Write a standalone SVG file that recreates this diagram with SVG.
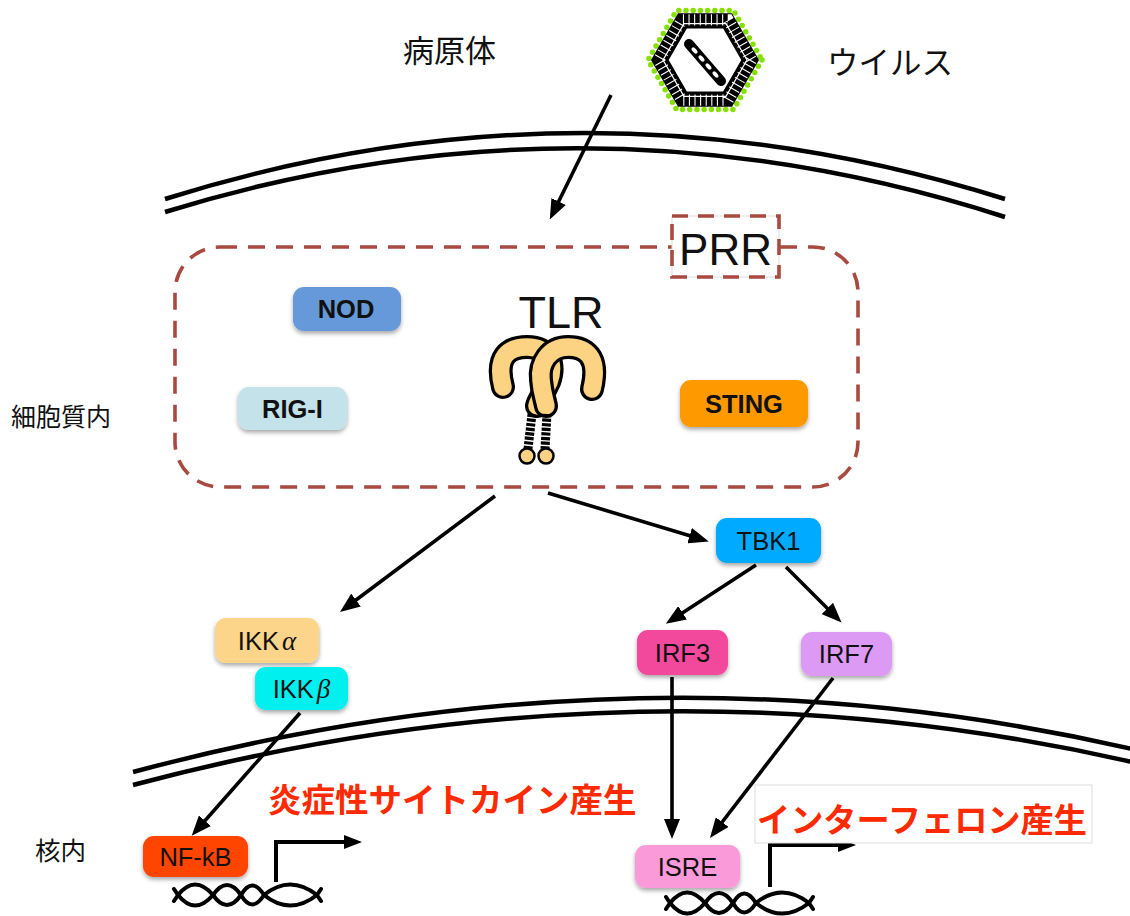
<svg xmlns="http://www.w3.org/2000/svg" width="1130" height="916" viewBox="0 0 1130 916">
  <style>
    .lbl { font-family: "Liberation Sans", "Noto Sans CJK JP", sans-serif; fill: #111; dominant-baseline: central; }
    .jp { font-family: "Noto Sans CJK JP", sans-serif; fill: #111; dominant-baseline: central; }
    .red { font-family: "Noto Sans CJK JP", sans-serif; fill: #ff2a00; font-weight: bold; dominant-baseline: central; }
    .node { stroke: none; filter: url(#shadow); }
    .nt { font-family: "Liberation Sans", sans-serif; fill: #111; dominant-baseline: central; text-anchor: middle; font-size: 25.5px; }
    .b { font-weight: bold; }
    .mem { fill: none; stroke: #000; stroke-width: 4.5; }
    .edge { fill: none; stroke: #000; stroke-width: 3.6; marker-end: url(#arr); }
    .gene { fill: none; stroke: #000; stroke-width: 4; marker-end: url(#garr); }
    .dna { fill: none; stroke: #000; stroke-width: 4; stroke-linecap: round; }
  </style>
  <defs>
    <filter id="shadow" x="-20%" y="-20%" width="140%" height="160%">
      <feDropShadow dx="0" dy="2.5" stdDeviation="2" flood-color="#000" flood-opacity="0.35"/>
    </filter>
    <marker id="arr" markerUnits="userSpaceOnUse" markerWidth="20" markerHeight="16" refX="15" refY="8" orient="auto">
      <path d="M0,0 L20,8 L0,16 z" fill="#000"/>
    </marker>
    <marker id="garr" markerUnits="userSpaceOnUse" markerWidth="18" markerHeight="14" refX="2" refY="7" orient="auto">
      <path d="M0,0 L18,7 L0,14 z" fill="#000"/>
    </marker>
    <!-- one DNA double helix, drawn at origin -->
    <g id="helix">
      <path class="dna" d="M0,0 Q17,-21 35,0 Q49,-20 63,0 Q74,-19 86,0 Q112,-21 139,0"/>
      <path class="dna" d="M0,0 Q17,21 35,0 Q49,20 63,0 Q74,19 86,0 Q112,21 139,0"/>
      <path class="dna" d="M-4,-6 L0,0 L-4,6 M143,-6 L139,0 L143,6"/>
    </g>
  </defs>

  <rect width="1130" height="916" fill="#fff"/>

  <!-- cell membrane -->
  <g id="cell-membrane">
    <path class="mem" d="M165,199 Q585,67 1005,199"/>
    <path class="mem" d="M165,212 Q585,82 1005,217"/>
  </g>

  <!-- nuclear membrane -->
  <g id="nuclear-membrane">
    <path class="mem" d="M133,772 Q640,636 1132,749"/>
    <path class="mem" d="M133,785 Q640,650 1132,762"/>
  </g>

  <!-- labels -->
  <text class="jp" x="403" y="48" font-size="31">病原体</text>
  <text class="jp" x="827" y="60" font-size="31.5">ウイルス</text>
  <text class="jp" x="11" y="415" font-size="25">細胞質内</text>
  <text class="jp" x="35" y="848" font-size="25.5">核内</text>

  <!-- virus particle -->
  <g id="virus">
    <polygon points="762,60 733.5,109.4 676.5,109.4 648,60 676.5,10.6 733.5,10.6" fill="none" stroke="#86e000" stroke-width="5.5" stroke-dasharray="0 7.2" stroke-linecap="round"/>
    <polygon points="759,60 732,106.8 678,106.8 651,60 678,13.2 732,13.2" fill="#000"/>
    <polygon points="751,60 728,99.8 682,99.8 659,60 682,20.2 728,20.2" fill="none" stroke="#fff" stroke-width="12" stroke-dasharray="1.1 4.5"/>
    <polygon points="747,60 726,96.4 684,96.4 663,60 684,23.6 726,23.6" fill="none" stroke="#fff" stroke-width="1.2"/>
    <polygon points="743,60 724,92.9 686,92.9 667,60 686,27.1 724,27.1" fill="#fff" stroke="#000" stroke-width="3"/>
    <path d="M689,44 L721,81" stroke="#000" stroke-width="10" stroke-linecap="round"/>
    <g fill="#fff">
      <ellipse cx="694.5" cy="50.5" rx="3.8" ry="2" transform="rotate(49 694.5 50.5)"/>
      <ellipse cx="701.5" cy="58.5" rx="3.8" ry="2" transform="rotate(49 701.5 58.5)"/>
      <ellipse cx="708.5" cy="66.5" rx="3.8" ry="2" transform="rotate(49 708.5 66.5)"/>
      <ellipse cx="715.5" cy="74.5" rx="3.8" ry="2" transform="rotate(49 715.5 74.5)"/>
    </g>
  </g>

  <!-- PRR region -->
  <g id="prr">
    <rect x="175" y="247" width="683" height="240" rx="45" fill="none" stroke="#a84a40" stroke-width="3.6" stroke-dasharray="17 11"/>
    <rect x="672" y="216" width="107" height="61" fill="#fff" stroke="#ddd" stroke-width="1"/>
    <rect x="672" y="216" width="107" height="61" fill="none" stroke="#a84a40" stroke-width="3.6" stroke-dasharray="16 10"/>
    <text class="lbl" x="725.5" y="249" font-size="44" text-anchor="middle">PRR</text>
  </g>

  <!-- connectors -->
  <g id="connectors">
    <line class="edge" x1="611" y1="95" x2="552" y2="215"/>
    <line class="edge" x1="495" y1="496" x2="344" y2="609"/>
    <line class="edge" x1="548" y1="493" x2="704" y2="540"/>
    <line class="edge" x1="756" y1="565" x2="670" y2="621"/>
    <line class="edge" x1="786" y1="567" x2="838" y2="619"/>
    <line class="edge" x1="300" y1="713" x2="195" y2="832"/>
    <line class="edge" x1="672" y1="677" x2="672" y2="834"/>
    <line class="edge" x1="833" y1="678" x2="713" y2="834"/>
  </g>

  <!-- TLR receptor -->
  <g id="tlr">
    <text class="lbl" x="561" y="312" font-size="45" text-anchor="middle">TLR</text>
    <g fill="none" stroke-linecap="round">
      <path d="M503,387 C495,356 509,347 527,347 C548,347 556,363 549,382 C544,394 538,400 537,406" stroke="#000" stroke-width="24"/>
      <path d="M503,387 C495,356 509,347 527,347 C548,347 556,363 549,382 C544,394 538,400 537,406" stroke="#fcd283" stroke-width="17.5"/>
      <path d="M592,389 C600,356 585,347 568,347 C549,347 539,363 541,380 C542,393 545,400 546,406" stroke="#000" stroke-width="24"/>
      <path d="M592,389 C600,356 585,347 568,347 C549,347 539,363 541,380 C542,393 545,400 546,406" stroke="#fcd283" stroke-width="17.5"/>
    </g>
    <g stroke="#000" stroke-width="9" stroke-dasharray="3.2 1.4">
      <line x1="532" y1="414" x2="528" y2="449"/>
      <line x1="547" y1="414" x2="545" y2="449"/>
    </g>
    <g fill="#fcd283" stroke="#000" stroke-width="2.5">
      <circle cx="527" cy="456" r="7.5"/>
      <circle cx="546" cy="456" r="7.5"/>
    </g>
  </g>

  <!-- sensor nodes -->
  <g id="nod">
    <rect class="node" x="293" y="287" width="108" height="44" rx="11" fill="#6699d9"/>
    <text class="nt b" x="346" y="309" font-size="26">NOD</text>
  </g>
  <g id="rig-i">
    <rect class="node" x="238" y="387" width="109" height="43" rx="11" fill="#c3e2ea"/>
    <text class="nt b" x="292.5" y="408.5" font-size="25">RIG-I</text>
  </g>
  <g id="sting">
    <rect class="node" x="680" y="380" width="128" height="47" rx="11" fill="#ff9900"/>
    <text class="nt b" x="744" y="404" font-size="25">STING</text>
  </g>

  <!-- signalling nodes -->
  <g id="tbk1">
    <rect class="node" x="716" y="518" width="105" height="45" rx="11" fill="#00aaff"/>
    <text class="nt" x="768.5" y="541">TBK1</text>
  </g>
  <g id="irf3">
    <rect class="node" x="637" y="630" width="91" height="45" rx="11" fill="#f24a9c"/>
    <text class="nt" x="682.5" y="652.5">IRF3</text>
  </g>
  <g id="irf7">
    <rect class="node" x="801" y="632" width="91" height="44" rx="11" fill="#dd9af5"/>
    <text class="nt" x="846.5" y="654">IRF7</text>
  </g>
  <g id="ikk-alpha">
    <rect class="node" x="215" y="618" width="104" height="45" rx="11" fill="#fdd58a"/>
    <text class="nt" x="267" y="640.5">IKK<tspan font-family="Liberation Serif, serif" font-style="italic" font-size="27" dx="3">α</tspan></text>
  </g>
  <g id="ikk-beta">
    <rect class="node" x="255" y="667" width="93" height="43" rx="11" fill="#00f0f0"/>
    <text class="nt" x="301.5" y="688.5">IKK<tspan font-family="Liberation Serif, serif" font-style="italic" font-size="27" dx="3">β</tspan></text>
  </g>

  <!-- nuclear elements -->
  <g id="nfkb-gene">
    <use href="#helix" x="178" y="895"/>
    <path class="gene" d="M276,882 L276,842 L346,842"/>
  </g>
  <g id="nf-kb">
    <rect class="node" x="143" y="836" width="105" height="41" rx="11" fill="#ff4400"/>
    <text class="nt" x="195.5" y="857">NF-kB</text>
  </g>

  <g id="isre-gene">
    <use href="#helix" x="670" y="903"/>
    <path class="gene" d="M770,887 L770,845 L840,845"/>
  </g>
  <g id="isre">
    <rect class="node" x="635" y="845" width="105" height="43" rx="11" fill="#fb9ad9"/>
    <text class="nt" x="687.5" y="866.5">ISRE</text>
  </g>

  <!-- outputs -->
  <text class="red" x="268" y="797" font-size="33.5">炎症性サイトカイン産生</text>
  <g id="ifn-label">
    <rect x="755" y="785" width="337" height="58" fill="#fff" stroke="#ddd" stroke-width="1"/>
    <text class="red" x="757" y="817" font-size="33.2">インターフェロン産生</text>
  </g>
</svg>
